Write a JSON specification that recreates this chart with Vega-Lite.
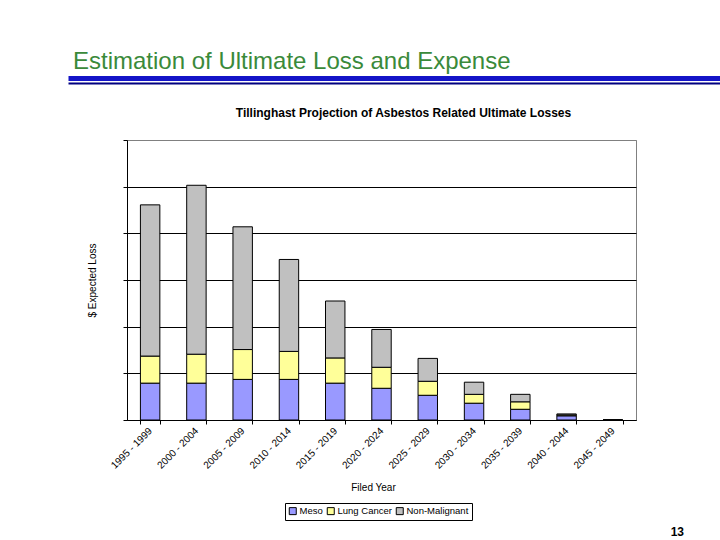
{
  "$schema": "https://vega.github.io/schema/vega-lite/v6.json",
  "background": "white",
  "padding": {"left": 70, "top": 50, "right": 0, "bottom": 4},
  "config": {"font": "Liberation Sans", "concat": {"spacing": 22}},
  "datasets": {
    "losses": [
      {"period": "1995 - 1999", "type": "Meso", "value": 0.79},
      {"period": "1995 - 1999", "type": "Lung Cancer", "value": 0.58},
      {"period": "1995 - 1999", "type": "Non-Malignant", "value": 3.24},
      {"period": "2000 - 2004", "type": "Meso", "value": 0.79},
      {"period": "2000 - 2004", "type": "Lung Cancer", "value": 0.62},
      {"period": "2000 - 2004", "type": "Non-Malignant", "value": 3.62},
      {"period": "2005 - 2009", "type": "Meso", "value": 0.87},
      {"period": "2005 - 2009", "type": "Lung Cancer", "value": 0.64},
      {"period": "2005 - 2009", "type": "Non-Malignant", "value": 2.63},
      {"period": "2010 - 2014", "type": "Meso", "value": 0.87},
      {"period": "2010 - 2014", "type": "Lung Cancer", "value": 0.60},
      {"period": "2010 - 2014", "type": "Non-Malignant", "value": 1.97},
      {"period": "2015 - 2019", "type": "Meso", "value": 0.79},
      {"period": "2015 - 2019", "type": "Lung Cancer", "value": 0.54},
      {"period": "2015 - 2019", "type": "Non-Malignant", "value": 1.22},
      {"period": "2020 - 2024", "type": "Meso", "value": 0.68},
      {"period": "2020 - 2024", "type": "Lung Cancer", "value": 0.45},
      {"period": "2020 - 2024", "type": "Non-Malignant", "value": 0.81},
      {"period": "2025 - 2029", "type": "Meso", "value": 0.53},
      {"period": "2025 - 2029", "type": "Lung Cancer", "value": 0.30},
      {"period": "2025 - 2029", "type": "Non-Malignant", "value": 0.49},
      {"period": "2030 - 2034", "type": "Meso", "value": 0.36},
      {"period": "2030 - 2034", "type": "Lung Cancer", "value": 0.19},
      {"period": "2030 - 2034", "type": "Non-Malignant", "value": 0.26},
      {"period": "2035 - 2039", "type": "Meso", "value": 0.23},
      {"period": "2035 - 2039", "type": "Lung Cancer", "value": 0.16},
      {"period": "2035 - 2039", "type": "Non-Malignant", "value": 0.16},
      {"period": "2040 - 2044", "type": "Meso", "value": 0.09},
      {"period": "2040 - 2044", "type": "Lung Cancer", "value": 0.02},
      {"period": "2040 - 2044", "type": "Non-Malignant", "value": 0.02},
      {"period": "2045 - 2049", "type": "Meso", "value": 0},
      {"period": "2045 - 2049", "type": "Lung Cancer", "value": 0},
      {"period": "2045 - 2049", "type": "Non-Malignant", "value": 0}
    ]
  },
  "vconcat": [
    {
      "width": 509,
      "height": 5,
      "view": {"stroke": null},
      "title": {
        "text": "Estimation of Ultimate Loss and Expense",
        "anchor": "start",
        "frame": "group",
        "dx": -54,
        "fontSize": 24,
        "fontWeight": "normal",
        "color": "#3a8a3a",
        "offset": 4
      },
      "data": {"name": "losses"},
      "layer": [
        {
          "mark": {"type": "bar", "opacity": 0},
          "encoding": {
            "x": {
              "field": "period",
              "type": "nominal",
              "scale": {"range": [-59, 593]},
              "axis": {"orient": "top", "title": null, "labels": false, "ticks": false, "grid": false, "domainColor": "#1414C8", "domainWidth": 5}
            },
            "y": {"field": "value", "type": "quantitative", "axis": null}
          }
        },
        {
          "mark": {"type": "bar", "opacity": 0},
          "encoding": {
            "x": {
              "field": "period",
              "type": "nominal",
              "axis": {"orient": "bottom", "title": null, "labels": false, "ticks": false, "grid": false, "domainColor": "#000080", "domainWidth": 2}
            },
            "y": {"field": "value", "type": "quantitative", "axis": null}
          }
        }
      ],
      "resolve": {"axis": {"x": "independent"}}
    },
    {
      "width": 509,
      "height": 280,
      "view": {"stroke": "#808080", "strokeWidth": 1},
      "title": {
        "text": "13",
        "orient": "bottom",
        "anchor": "end",
        "frame": "group",
        "dx": 48,
        "offset": 35,
        "fontSize": 12,
        "fontWeight": "bold",
        "color": "black"
      },
      "data": {"name": "losses"},
      "layer": [
        {
          "transform": [
            {"window": [{"op": "row_number", "as": "stack_rank"}], "groupby": ["period"]}
          ],
          "mark": {"type": "bar", "stroke": "black", "strokeWidth": 1},
          "encoding": {
            "x": {
              "field": "period",
              "type": "nominal",
              "scale": {"paddingInner": 0.58, "paddingOuter": 0.29},
              "axis": {
                "orient": "bottom",
                "title": "Filed Year",
                "titleFontSize": 10,
                "titleFontWeight": "normal",
                "titleColor": "black",
                "titlePadding": 12,
                "titleX": 246,
                "labelAngle": -45,
                "labelAlign": "right",
                "labelBaseline": "middle",
                "labelFontSize": 10,
                "labelColor": "black",
                "labelPadding": 5,
                "tickBand": "extent",
                "tickColor": "black",
                "tickSize": 4,
                "domainColor": "black",
                "grid": false
              }
            },
            "y": {
              "field": "value",
              "type": "quantitative",
              "stack": "zero",
              "scale": {"domain": [0, 6], "nice": false},
              "axis": {
                "title": "$ Expected Loss",
                "titleFontSize": 10,
                "titleFontWeight": "normal",
                "titleColor": "black",
                "titlePadding": 25,
                "labels": false,
                "values": [0, 1, 2, 3, 4, 5, 6],
                "tickSize": 4,
                "tickColor": "black",
                "domainColor": "black",
                "grid": true,
                "gridColor": {"condition": {"test": "datum.value === 6", "value": "#808080"}, "value": "black"},
                "gridOpacity": 1
              }
            },
            "order": {"field": "stack_rank", "type": "quantitative"},
            "color": {
              "field": "type",
              "type": "nominal",
              "scale": {"domain": ["Meso", "Lung Cancer", "Non-Malignant"], "range": ["#9999FF", "#FFFF99", "#C0C0C0"]},
              "legend": {
                "orient": "none",
                "legendX": 158,
                "legendY": 425,
                "direction": "horizontal",
                "title": null,
                "symbolType": "square",
                "symbolSize": 49,
                "symbolStrokeColor": "black",
                "symbolStrokeWidth": 1,
                "symbolOpacity": 1,
                "labelFontSize": 9.5,
                "labelColor": "black",
                "labelOffset": 2,
                "columnPadding": 2,
                "padding": 3,
                "strokeColor": "black",
                "fillColor": "white"
              }
            }
          }
        },
        {
          "mark": {"type": "bar", "opacity": 0},
          "encoding": {
            "x": {
              "field": "period",
              "type": "nominal",
              "axis": {
                "orient": "top",
                "title": "Tillinghast Projection of Asbestos Related Ultimate Losses",
                "titleFontSize": 12,
                "titleFontWeight": "bold",
                "titleColor": "black",
                "titlePadding": 21,
                "titleX": 276,
                "labels": false,
                "ticks": false,
                "domain": false,
                "grid": false
              }
            },
            "y": {
              "field": "value",
              "type": "quantitative",
              "stack": "zero",
              "scale": {"domain": [0, 6], "nice": false},
              "axis": {
                "title": "$ Expected Loss",
                "titleFontSize": 10,
                "titleFontWeight": "normal",
                "titleColor": "black",
                "titlePadding": 25,
                "labels": false,
                "values": [0, 1, 2, 3, 4, 5, 6],
                "tickSize": 4,
                "tickColor": "black",
                "domainColor": "black",
                "grid": true,
                "gridColor": {"condition": {"test": "datum.value === 6", "value": "#808080"}, "value": "black"},
                "gridOpacity": 1
              }
            }
          }
        }
      ],
      "resolve": {"axis": {"x": "independent"}}
    }
  ]
}
